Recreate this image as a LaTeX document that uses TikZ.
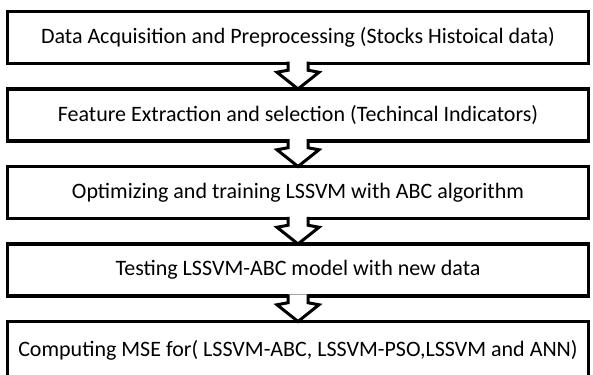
\documentclass[tikz,border=0pt]{standalone}
\usepackage{fontspec}
\setmainfont{Carlito}
\usetikzlibrary{positioning}
\tikzset{every picture/.style={line width=3.5pt}}
\tikzset{stage/.style={draw, minimum width=581pt, minimum height=52pt, inner sep=0pt, font=\fontsize{22}{26}\selectfont}}
\tikzset{flow/.style={draw, fill=white, line width=3pt, line join=miter}}

\begin{document}
\begin{tikzpicture}[x=1pt,y=1pt]
              \useasboundingbox (0,0) rectangle (593,-374);
              \clip (0,0) rectangle (593,-374);
              \node[stage] (s1) at (298,-37.5) {Data Acquisition and Preprocessing (Stocks Histoical data)};
              \node[stage, below=22pt of s1] (s2) {Feature Extraction and selection (Techincal Indicators)};
              \node[stage, below=22pt of s2] (s3) {Optimizing and training LSSVM with ABC algorithm};
              \node[stage, below=22pt of s3] (s4) {Testing LSSVM-ABC model with new data};
              \node[stage, below=22pt of s4, minimum height=58pt] (s5) {Computing MSE for( LSSVM-ABC, LSSVM-PSO,LSSVM and ANN)};
              % block arrows between the stages
              \foreach \a/\b in {s1/s2, s2/s3, s3/s4, s4/s5}
                \draw[flow] ([xshift=-10pt, yshift=3.5pt]\a.south) -- ([xshift=-10pt, yshift=-5pt]\a.south)
                  -- ([xshift=-21pt, yshift=-7pt]\a.south) -- ([yshift=-1.75pt]\b.north)
                  -- ([xshift=21pt, yshift=-7pt]\a.south) -- ([xshift=10pt, yshift=-5pt]\a.south)
                  -- ([xshift=10pt, yshift=3.5pt]\a.south);
            \end{tikzpicture}
\end{document}
